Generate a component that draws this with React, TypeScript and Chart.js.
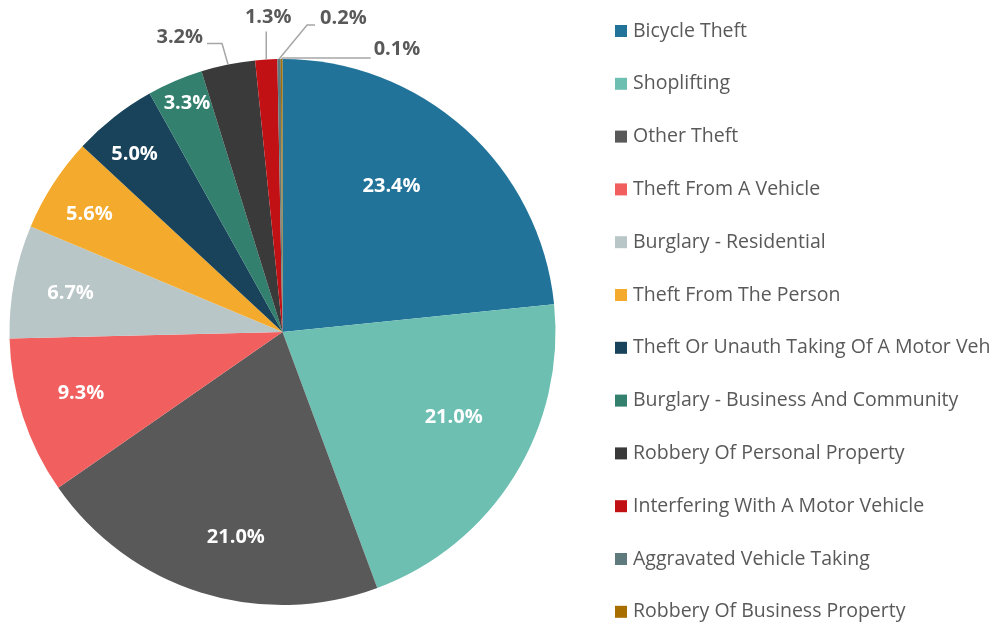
import React, { useEffect, useRef } from "react";
import { Chart, registerables } from "chart.js";

Chart.register(...registerables);

const categories = [
  "Bicycle Theft",
  "Shoplifting",
  "Other Theft",
  "Theft From A Vehicle",
  "Burglary - Residential",
  "Theft From The Person",
  "Theft Or Unauth Taking Of A Motor Veh",
  "Burglary - Business And Community",
  "Robbery Of Personal Property",
  "Interfering With A Motor Vehicle",
  "Aggravated Vehicle Taking",
  "Robbery Of Business Property",
];

const shares = [23.4, 21.0, 21.0, 9.3, 6.7, 5.6, 5.0, 3.3, 3.2, 1.3, 0.2, 0.1];

const colors = [
  "#21739A",
  "#6DBFB2",
  "#595959",
  "#F15F5F",
  "#B9C6C7",
  "#F4AB2D",
  "#18435A",
  "#34806F",
  "#3A3A3A",
  "#C21115",
  "#5F7A7C",
  "#A86E00",
];

// label placement (style only): inner labels radius fraction + angle shift (deg)
const innerPlacement = [
  { r: 0.667, a: -5.3 },
  { r: 0.70, a: -5.5 },
  { r: 0.772, a: -4.65 },
  { r: 0.772, a: 1.1 },
  { r: 0.789, a: -0.4 },
  { r: 0.829, a: -1.4 },
  { r: 0.846, a: -1.7 },
  { r: 0.907, a: 0.5 },
];

// outer labels with leader lines (style only)
const outerPlacement: Record<number, { dx: number; dy: number; run: number; tx: number; ty: number; align: CanvasTextAlign }> = {
  8: { dx: -6, dy: -21, run: -15, tx: -4, ty: -6, align: "right" },
  9: { dx: 0, dy: -28, run: 0, tx: 2, ty: -14, align: "center" },
  10: { dx: 28, dy: -34, run: 8, tx: 5, ty: -7, align: "left" },
  11: { dx: 1, dy: -1, run: 88, tx: 3, ty: -9, align: "left" },
};

const FONT = "'Open Sans', 'Noto Sans', sans-serif";

const labelPlugin = {
  id: "sliceLabels",
  afterDatasetsDraw(chart: any) {
    const ctx = chart.ctx;
    const meta = chart.getDatasetMeta(0);
    ctx.save();
    ctx.textBaseline = "middle";
    meta.data.forEach((arc: any, i: number) => {
      const { x, y, startAngle, endAngle, outerRadius } = arc.getProps(
        ["x", "y", "startAngle", "endAngle", "outerRadius"],
        true
      );
      const mid = (startAngle + endAngle) / 2;
      const text = shares[i].toFixed(1) + "%";
      if (i < innerPlacement.length) {
        const p = innerPlacement[i];
        const a = mid + (p.a * Math.PI) / 180;
        const r = p.r * outerRadius;
        ctx.fillStyle = "#FFFFFF";
        ctx.font = `bold 20px ${FONT}`;
        ctx.textAlign = "center";
        ctx.fillText(text, x + r * Math.cos(a), y + r * Math.sin(a));
      } else {
        const p = outerPlacement[i];
        const ax = x + outerRadius * Math.cos(mid);
        const ay = y + outerRadius * Math.sin(mid);
        const ex = ax + p.dx;
        const ey = ay + p.dy;
        const lx = ex + p.run;
        ctx.strokeStyle = "#A6A6A6";
        ctx.lineWidth = 1.5;
        ctx.beginPath();
        ctx.moveTo(ax, ay);
        ctx.lineTo(ex, ey);
        ctx.lineTo(lx, ey);
        ctx.stroke();
        ctx.fillStyle = "#595959";
        ctx.font = `bold 20px ${FONT}`;
        ctx.textAlign = p.align;
        ctx.fillText(text, lx + p.tx, ey + p.ty);
      }
    });
    ctx.restore();
  },
};

const legendPlugin = {
  id: "sideLegend",
  afterDraw(chart: any) {
    const ctx = chart.ctx;
    ctx.save();
    ctx.textBaseline = "middle";
    ctx.textAlign = "left";
    ctx.font = `19.5px ${FONT}`;
    categories.forEach((c, i) => {
      const cy = 31 + 52.8 * i;
      ctx.fillStyle = colors[i];
      ctx.fillRect(615, cy - 6, 12, 12);
      ctx.fillStyle = "#595959";
      ctx.fillText(c, 633, cy);
    });
    ctx.restore();
  },
};

export default function App() {
  const ref = useRef<HTMLCanvasElement>(null);
  useEffect(() => {
    document.body.style.margin = "0";
    const chart = new Chart(ref.current!, {
      type: "pie",
      data: {
        labels: categories,
        datasets: [
          {
            data: shares,
            backgroundColor: colors,
            borderWidth: 0,
          },
        ],
      },
      options: {
        animation: false,
        responsive: false,
        devicePixelRatio: 1,
        layout: { padding: { left: 9.5, right: 438.5, top: 59, bottom: 20 } },
        plugins: {
          legend: { display: false },
          tooltip: { enabled: false },
        },
      },
      plugins: [labelPlugin, legendPlugin],
    });
    return () => chart.destroy();
  }, []);
  return (
    <div style={{ width: 994, height: 625, background: "#fff" }}>
      <canvas ref={ref} width={994} height={625} />
    </div>
  );
}
